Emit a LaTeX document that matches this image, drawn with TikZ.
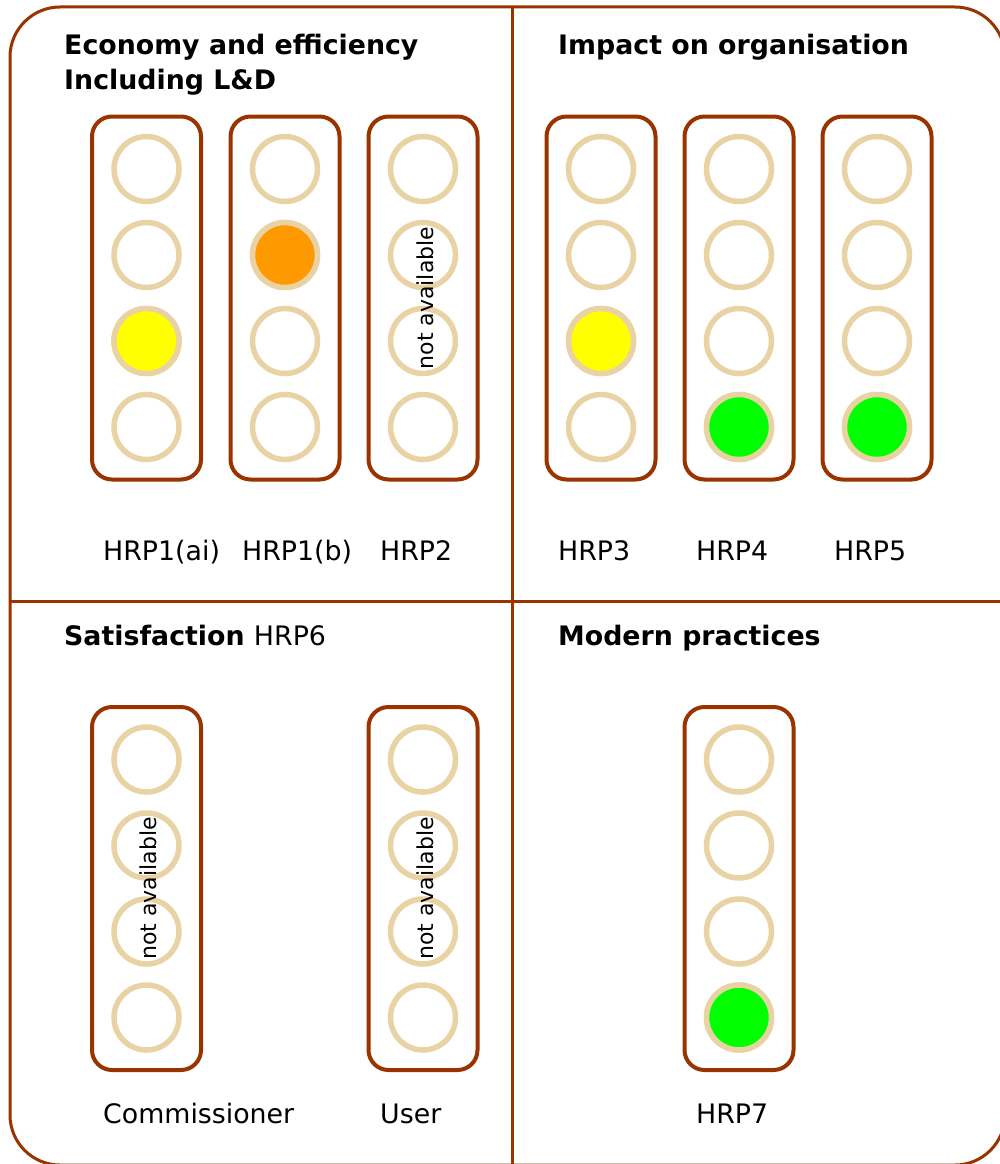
\documentclass[tikz,border=0pt]{standalone}
\usepackage{fontspec}
\setmainfont{DejaVu Sans}
\usetikzlibrary{positioning}
\definecolor{frame_brown}{RGB}{153,51,0}
\definecolor{lamp_ring}{RGB}{233,210,163}
\definecolor{lamp_yellow}{RGB}{255,255,0}
\definecolor{lamp_orange}{RGB}{255,153,0}
\definecolor{lamp_green}{RGB}{0,255,0}
\newcommand\lbl{\fontsize{26.8}{34}\selectfont}
\newcommand\natext{\fontsize{22}{26}\selectfont}

\begin{document}
\begin{tikzpicture}[x=1pt,y=-1pt]
    \tikzstyle{housing}=[draw=frame_brown, line width=4pt, rectangle, rounded corners=20pt, minimum width=109pt, minimum height=363pt, inner sep=0pt]
    \tikzstyle{lamp}=[draw=lamp_ring, line width=5.5pt, circle, minimum size=65pt, inner sep=0pt, fill=white]
    \tikzstyle{heading}=[anchor=base west, inner sep=0pt, font=\lbl\bfseries]
    \tikzstyle{hrplabel}=[anchor=base west, inner sep=0pt, font=\lbl]
    \tikzstyle{na}=[rotate=90, inner sep=0pt, font=\natext]
    \tikzstyle{frameline}=[draw=frame_brown, line width=3pt]

    \useasboundingbox (0,0) rectangle (999,1164);
    \draw[frameline, rounded corners=50pt] (10,7) rectangle (1005,1165);
    \draw[frameline] (512,7) -- (512,1165);
    \draw[frameline] (10,601) -- (1005,601);

    % headings
    \node[heading] (eco)  at (64,55)   {Economy and efficiency};
    \node[heading] (ld)   at (64,89)   {Including L\&D};
    \node[heading] (imp)  at (558,55)  {Impact on organisation};
    \node[heading] (sat)  at (64,645)  {Satisfaction \mdseries HRP6};
    \node[heading] (mod)  at (558,645) {Modern practices};

    % traffic lights
    \foreach \hname/\x/\y/\lit/\col in {hrp1ai/146.5/298/3/lamp_yellow, hrp1b/285/298/2/lamp_orange,
        hrp2/423/298/0/white, hrp3/601/298/3/lamp_yellow, hrp4/739/298/4/lamp_green,
        hrp5/877/298/4/lamp_green, comm/146.5/888.5/0/white, user/423/888.5/0/white,
        hrp7/739/888.5/4/lamp_green}{
      \node[housing] (\hname) at (\x,\y) {};
      \foreach \i in {1,...,4}
        \node[lamp] (\hname-\i) at (\x,{\y+(\i-2.5)*86}) {};
      \ifnum\lit>0 \node[lamp, fill=\col] at (\hname-\lit) {}; \fi
    }

    \node[na] (na2)    at ([xshift=2pt]hrp2.center) {not available};
    \node[na] (nacomm) at ([xshift=2pt]comm.center) {not available};
    \node[na] (nauser) at ([xshift=2pt]user.center) {not available};

    % labels
    \node[hrplabel] (l1)  at (103,560)  {HRP1(ai)};
    \node[hrplabel] (l2)  at (242,560)  {HRP1(b)};
    \node[hrplabel] (l3)  at (380,560)  {HRP2};
    \node[hrplabel] (l4)  at (558,560)  {HRP3};
    \node[hrplabel] (l5)  at (696,560)  {HRP4};
    \node[hrplabel] (l6)  at (834,560)  {HRP5};
    \node[hrplabel] (l7)  at (103,1123) {Commissioner};
    \node[hrplabel] (l8)  at (380,1123) {User};
    \node[hrplabel] (l9)  at (696,1123) {HRP7};
\end{tikzpicture}
\end{document}
